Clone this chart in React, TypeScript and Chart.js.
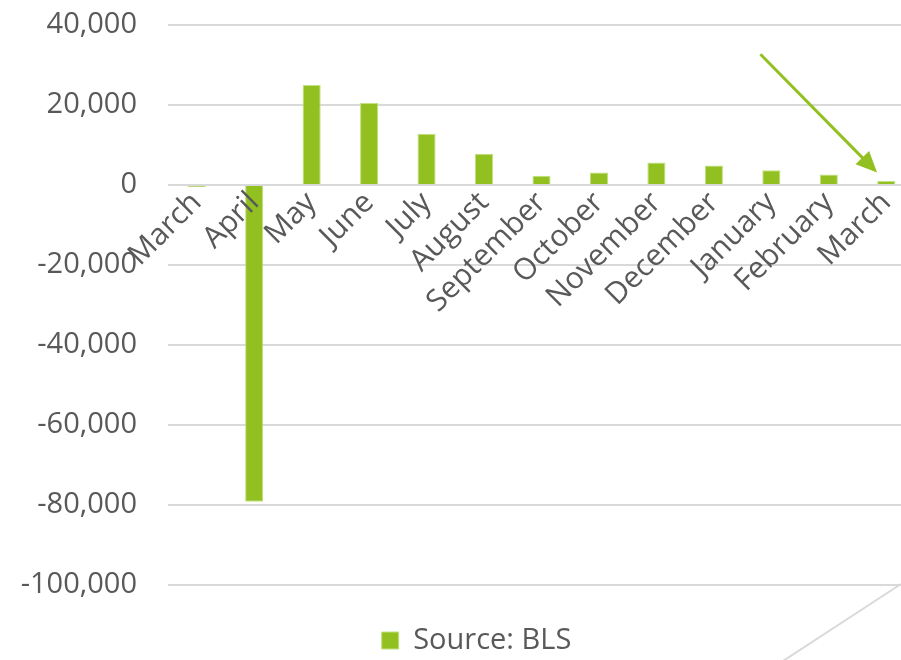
import React, { useEffect, useRef } from "react";
import { Chart, registerables } from "chart.js";

Chart.register(...registerables);

const categories = [
  "March", "April", "May", "June", "July", "August", "September",
  "October", "November", "December", "January", "February", "March",
];
const values = [-500, -79200, 25000, 20500, 12800, 7800, 2300, 3100, 5600, 4900, 3700, 2600, 1000];
const seriesLabel = "Source: BLS";
const yMin = -100000;
const yMax = 40000;
const yStep = 20000;
// arrow annotation in data coordinates [categoryIndex, value]
const arrowFrom = [9.81, 32700];
const arrowTo = [11.84, 3100];

const GREEN = "#92c020";
const TEXT = "#595959";
const FONT = "'Open Sans', sans-serif";

const decorPlugin = {
  id: "decor",
  afterLayout(chart: any) {
    if (chart.legend) chart.legend.left += 38;
  },
  afterDatasetsDraw(chart: any) {
    const { ctx, scales, chartArea } = chart;
    const x = scales.x, y = scales.y;
    const x1 = x.getPixelForValue(arrowFrom[0]);
    const y1 = y.getPixelForValue(arrowFrom[1]);
    const x2 = x.getPixelForValue(arrowTo[0]);
    const y2 = y.getPixelForValue(arrowTo[1]);
    const ang = Math.atan2(y2 - y1, x2 - x1);
    const headLen = 21;
    const headW = 9.5;
    ctx.save();
    ctx.strokeStyle = GREEN;
    ctx.fillStyle = GREEN;
    ctx.lineWidth = 3;
    ctx.beginPath();
    ctx.moveTo(x1, y1);
    ctx.lineTo(x2 - Math.cos(ang) * headLen * 0.8, y2 - Math.sin(ang) * headLen * 0.8);
    ctx.stroke();
    const bx = x2 - Math.cos(ang) * headLen;
    const by = y2 - Math.sin(ang) * headLen;
    ctx.beginPath();
    ctx.moveTo(x2, y2);
    ctx.lineTo(bx + Math.sin(ang) * headW, by - Math.cos(ang) * headW);
    ctx.lineTo(bx - Math.sin(ang) * headW, by + Math.cos(ang) * headW);
    ctx.closePath();
    ctx.fill();
    // decorative diagonal frame line at bottom right
    ctx.strokeStyle = "#d9d9d9";
    ctx.lineWidth = 2;
    ctx.beginPath();
    ctx.moveTo(901, chartArea.bottom - 1);
    ctx.lineTo(901 - 118, chartArea.bottom + 76);
    ctx.stroke();
    ctx.restore();
  },
};

export default function App() {
  const ref = useRef<HTMLCanvasElement>(null);
  useEffect(() => {
    if (!ref.current) return;
    const chart = new Chart(ref.current, {
      type: "bar",
      data: {
        labels: categories,
        datasets: [
          {
            label: seriesLabel,
            data: values,
            backgroundColor: GREEN,
            borderColor: "#c2e07f",
            borderWidth: 1,
            categoryPercentage: 1,
            barPercentage: 0.315,
          },
        ],
      },
      options: {
        animation: false,
        responsive: false,
        layout: { padding: { left: 0, right: 0, top: 0, bottom: -5 } },
        scales: {
          x: {
            position: { y: 0 } as any,
            grid: { display: false, drawTicks: false },
            border: { display: false },
            ticks: {
              z: 1,
              minRotation: 45,
              maxRotation: 45,
              autoSkip: false,
              padding: 0,
              color: TEXT,
              font: { family: FONT, size: 30 },
            },
          },
          y: {
            min: yMin,
            max: yMax,
            afterFit(scale: any) {
              scale.width = 168;
              scale.paddingTop = 25;
              scale.paddingBottom = 18;
            },
            grid: { color: "#d9d9d9", lineWidth: 2, drawTicks: false },
            border: { display: false },
            ticks: {
              stepSize: yStep,
              padding: 31,
              color: TEXT,
              font: { family: FONT, size: 29 },
              callback: (v: any) => Number(v).toLocaleString("en-US"),
            },
          },
        },
        plugins: {
          legend: {
            position: "bottom",
            title: { display: true, text: " ", font: { size: 10 }, padding: { top: 12, bottom: 17 } },
            labels: {
              boxWidth: 17,
              boxHeight: 17,
              color: TEXT,
              padding: 0,
              font: { family: FONT, size: 29 },
            },
          },
          tooltip: { enabled: false },
        },
      },
      plugins: [decorPlugin],
    });
    return () => chart.destroy();
  }, []);
  return (
    <div style={{ position: "fixed", left: 0, top: 0, width: 901, height: 660, overflow: "hidden", background: "#fff" }}>
      <canvas ref={ref} width={915} height={660} style={{ display: "block" }} />
    </div>
  );
}
